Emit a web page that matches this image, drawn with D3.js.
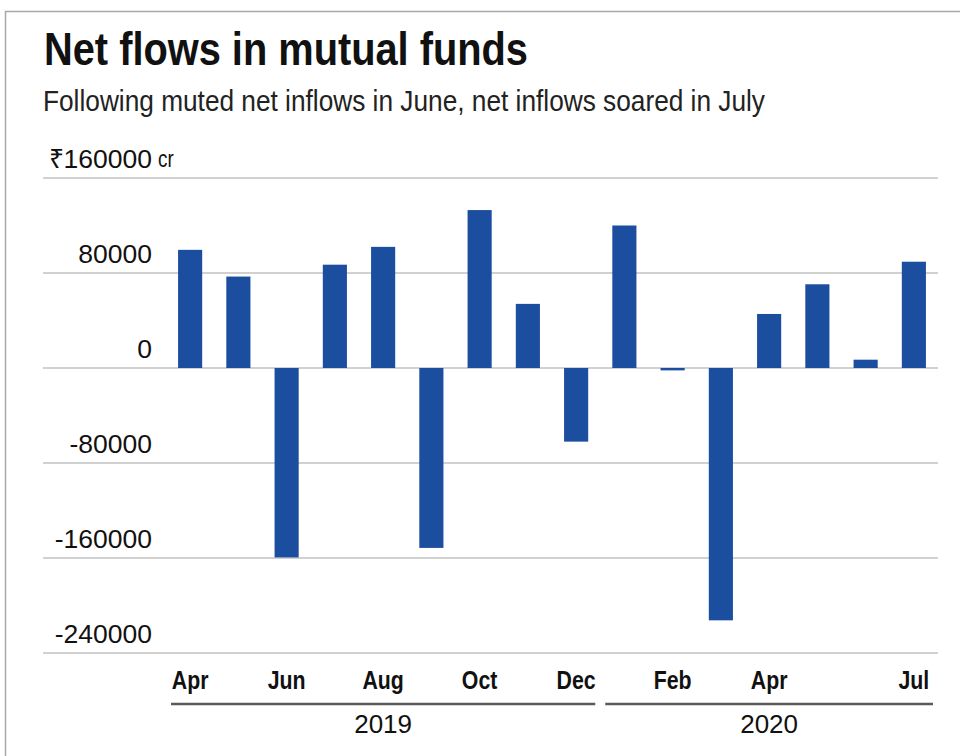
<!DOCTYPE html>
<html>
<head>
<meta charset="utf-8">
<script src="https://cdn.jsdelivr.net/npm/d3@7"></script>
<style>
  html, body { margin: 0; padding: 0; background: #fff; }
  svg { display: block; }
</style>
</head>
<body>
<svg id="chart" width="960" height="756"></svg>
<script>
// ---- data ----
const months = ["Apr 2019","May 2019","Jun 2019","Jul 2019","Aug 2019","Sep 2019","Oct 2019","Nov 2019","Dec 2019",
                "Jan 2020","Feb 2020","Mar 2020","Apr 2020","May 2020","Jun 2020","Jul 2020"];
const netFlows = [99500, 77000, -159500, 87000, 102000, -151500, 133000, 54000, -62000,
                  120000, -2000, -212500, 45500, 70500, 7000, 89500];
const tickMonths = ["Apr 2019","Jun 2019","Aug 2019","Oct 2019","Dec 2019","Feb 2020","Apr 2020","Jul 2020"];
const yTicks = [160000, 80000, 0, -80000, -160000, -240000];
const years = ["2019", "2020"];

const title = "Net flows in mutual funds";
const subtitle = "Following muted net inflows in June, net inflows soared in July";

// ---- layout ----
const svg = d3.select("#chart");
const sans = "'Liberation Sans', Arial, sans-serif";
const narrowScale = 0.82;

// border
svg.append("path")
  .attr("d", "M5.5,760 V11.5 H965")
  .attr("fill", "none").attr("stroke", "#a8a8a8").attr("stroke-width", 1.5);

svg.append("text").attr("x", 44).attr("y", 65)
  .attr("font-family", sans).attr("font-weight", "bold").attr("font-size", 46)
  .attr("textLength", 484).attr("lengthAdjust", "spacingAndGlyphs")
  .attr("fill", "#111").text(title);

svg.append("text").attr("x", 43).attr("y", 111)
  .attr("font-family", sans).attr("font-size", 29)
  .attr("textLength", 722).attr("lengthAdjust", "spacingAndGlyphs")
  .attr("fill", "#222").text(subtitle);

const x = d3.scaleBand().domain(months).range([166, 938]).paddingInner(0.5).paddingOuter(0.25);
const y = d3.scaleLinear().domain([-240000, 160000]).range([653, 178]);

// gridlines
svg.append("g").selectAll("line").data(yTicks).join("line")
  .attr("x1", 43).attr("x2", 938)
  .attr("y1", d => y(d)).attr("y2", d => y(d))
  .attr("stroke", "#c2c2c2").attr("stroke-width", 1.5);

// y labels
svg.append("g").selectAll("text").data(yTicks).join("text")
  .attr("x", 152).attr("y", d => y(d) - 10)
  .attr("text-anchor", "end")
  .attr("font-family", sans).attr("font-size", 26.5).attr("fill", "#111")
  .text(d => d === 160000 ? "₹" + d : String(d));
svg.append("text").attr("transform", `translate(158,${y(160000) - 11}) scale(${narrowScale},1)`)
  .attr("font-family", sans).attr("font-size", 23).attr("fill", "#111").text("cr");

// bars
svg.append("g").selectAll("rect").data(months).join("rect")
  .attr("x", d => x(d))
  .attr("width", x.bandwidth())
  .attr("y", (d, i) => y(Math.max(0, netFlows[i])))
  .attr("height", (d, i) => Math.abs(y(netFlows[i]) - y(0)))
  .attr("fill", "#1c4ea0");

// month ticks
svg.append("g").selectAll("text").data(tickMonths).join("text")
  .attr("transform", d => `translate(${x(d) + x.bandwidth() / 2},689) scale(${narrowScale},1)`)
  .attr("text-anchor", "middle")
  .attr("font-family", sans).attr("font-weight", "bold").attr("font-size", 26).attr("fill", "#111")
  .text(d => d.split(" ")[0]);

// year groups
years.forEach(yr => {
  const ms = months.filter(m => m.endsWith(yr));
  const x0 = x(ms[0]) - x.bandwidth() / 2 + 5;
  const x1 = x(ms[ms.length - 1]) + x.bandwidth() * 1.5 - 5;
  svg.append("line").attr("x1", x0).attr("x2", x1).attr("y1", 704).attr("y2", 704)
    .attr("stroke", "#5a5a5a").attr("stroke-width", 2.5);
  svg.append("text").attr("x", (x0 + x1) / 2).attr("y", 733)
    .attr("text-anchor", "middle")
    .attr("font-family", sans).attr("font-size", 26).attr("fill", "#111").text(yr);
});
</script>
</body>
</html>
